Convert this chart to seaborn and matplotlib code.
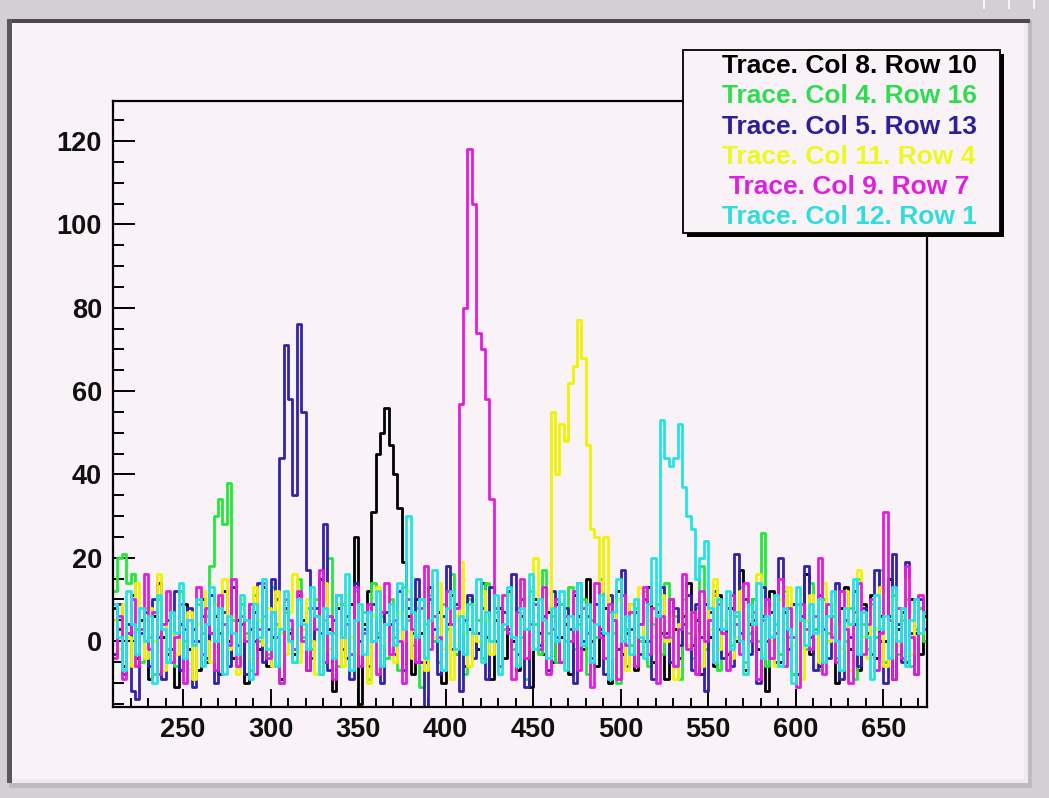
import numpy as np
import pandas as pd
import matplotlib
matplotlib.use("Agg")
import matplotlib.pyplot as plt
from matplotlib.patches import Rectangle
from matplotlib.ticker import MultipleLocator
import seaborn as sns

# Histogram binning of the traces
X_START = 210.0
BIN_WIDTH = 2.5

trace_names = [
    "Trace. Col 8. Row 10",
    "Trace. Col 4. Row 16",
    "Trace. Col 5. Row 13",
    "Trace. Col 11. Row 4",
    "Trace. Col 9. Row 7",
    "Trace. Col 12. Row 1",
]
line_colors = ["#000000", "#22e83a", "#3322aa", "#f2f200", "#e41ce0", "#22e4e6"]
label_colors = ["#000000", "#30dc50", "#2b1f9a", "#eef820", "#dc22dc", "#30dcdc"]

x_ticks = [250, 300, 350, 400, 450, 500, 550, 600, 650]
y_ticks = [0, 20, 40, 60, 80, 100, 120]

# Per-bin contents of each trace (186 bins of 2.5 from 210 to 675)
col8_row10 = [
    8, 3, -6, 2, 11, -4, 5, 0, -9, 6, 14, 1, -3, 7, -11, 4, 9, -2, 3, -7,
    10, -5, 2, 6, -8, 12, 0, -4, 5, 9, -10, 3, 7, -2, 13, -6, 1, 4, -9, 8,
    2, -3, 11, 5, -7, 0, 6, 15, -5, 3, -12, 8, 1, -4, 9, 25, -15, 4, 12, 31,
    45, 50, 56, 47, 40, 32, 19,
    6, -8, 10, 2, -5, 13, 0, 7, -10, 4, 11, -3, 6,
    -6, 3, 9, -2, 14, 1, -9, 5, 8, -4, 12, 0, -7, 6, 3, -11, 10, 2, -3, 7,
    -5, 9, 1, 4, -8, 11, 6, -2, 15, 0, -6, 3, 8, -10, 5, 12, -3, 2, 9, -7,
    4, 0, 13, -5, 7, 2, -9, 10, 3, -4, 6, 14, -1, 5, -8, 9, 1, -6, 11, 3,
    -3, 8, 0, 17, -7, 4, 10, -2, 6, -12, 12, 2, -5, 7, 1, 9, -8, 5, 16, -3,
    3, -6, 10, 0, 6, -10, 8, 13, -2, 4, -7, 9, 2, 11, -4, 6, 0, 15, -9, 3,
    7, -5, 10, 2, -3, 6,
]
col4_row16 = [
    12, 20, 21, 14, 16, 3, -5, 8, 1, -8, 10, 4, -2, 7, -6, 12, 0, 5, -9, 9, 2, 6,
    18, 30, 34, 28, 38, 5,
    -4, 9, 2, -7, 11, 0, 6, -3, 13, 4, -10, 7,
    3, -5, 15, 1, 8, -2, 10, -8, 5, 20, 2, -6, 9, 4, -3, 12, 0, 7, -9, 14,
    2, 6, -4, 10, 1, -7, 13, 5, -1, 8, -11, 4, 11, 0, -5, 9, 3, 16, -3, 6,
    -8, 10, 2, 5, -4, 14, 0, 7, -6, 3, 11, -2, 8, 1, -9, 12, 4, -3, 17, 2,
    6, -5, 9, 0, 13, -2, 4, 10, -8, 5, 1, 15, -4, 7, 2, -10, 11, 3, -1, 8,
    0, 12, -6, 4, 9, -3, 14, 1, 6, -9, 10, 2, -4, 8, 18, -2, 5, 11, -7, 3,
    9, -1, 6, 13, -5, 2, 10, 0, 26, -6, 7, 4, -3, 12, 1, -8, 9, 5, -2, 14,
    3, -7, 10, 2, 6, -4, 12, 0, 8, -9, 15, 4, -2, 9, 1, 17, -5, 6, 11, -3,
    5, 10, -6, 3, 8, 0,
]
col5_row13 = [
    -3, 9, -8, 4, -12, -14, 2, 7, -6, 10, 1, -9, 5, -2, 12, -7, 3, 8, -11, 0,
    6, -4, 11, -10, 2, 7, -6, 13, -1, 4, -8, 9, 0, 14, -5, 3, 15, 10,
    44, 71, 58, 35, 76, 55, 17,
    -4, 8, 2, 28, -7, 5, 11, -2, 6, -9, 14, 0, 3, -6, 9,
    1, -10, 7, 4, -3, 12, -7, 8, 2, 15, -5, -18, 10, 3, -8, 6, 18, -2, 9, -12,
    5, 11, -4, 2, 8, -9, 13, 0, -6, 7, 3, 16, -3, 10, -11, 4, 9, -1, 6, -7,
    12, 1, -5, 8, 3, -10, 14, 0, 6, -4, 9, 2, -8, 11, 5, -2, 17, -6, 3, 7,
    -3, 10, 0, -9, 6, 13, 2, -5, 8, -1, 4, 11, -7, 9, 1, -12, 7, 12, 3, -4,
    8, -6, 21, 2, 10, -3, 5, -10, 13, 0, 7, -5, 20, 4, -2, 9, -8, 6, 18, 1,
    -7, 11, 3, -4, 9, 14, -9, 5, 1, 12, -6, 8, 2, -3, 17, 0, -10, 6, 21, 4,
    -5, 19, 2, -8, 10, 3,
]
col11_row4 = [
    5, -2, 9, 1, -6, 14, 3, -4, 8, 0, 16, -7, 6, 2, -3, 11, -1, 7, -9, 4,
    12, 0, -5, 9, 3, 15, -2, 6, -8, 10, 1, -4, 13, 5, -1, 8, -6, 12, 2, -3,
    7, 16, -5, 3, 10, 0, -8, 6, 14, -2, 4, 9, -6, 11, 1, -3, 8, 2, -10, 6,
    13, -1, 4, 9, -5, 7, 0, 12, -4, 3, 10, -7, 5, 1, 14, -2, 8, -9, 6, 19,
    2, -6, 9, 0, 12, 5, -3, 8, -8, 4, 11, 1, -5, 15, 3, -2, 20, 7, 0, 8,
    55, 40, 52, 48, 62, 66, 77, 68, 47, 27, 25, 12, 25,
    6, -4, 10, 2, -7, 9, 1,
    13, -3, 5, 8, -5, 11, 0, 6, -9, 4, 12, -1, 7, 2, -6, 10, 3, 15, -2, 5,
    9, -4, 1, 12, -8, 6, 3, 16, -3, 8, 0, -6, 10, 4, 13, -1, 7, -9, 5, 11,
    2, -5, 14, 0, 9, 4, -2, 12, -7, 6, 17, 1, -4, 8, 3, 13, -6, 5, 10, -1,
    6, 15, -3, 9, 2, 7,
]
col9_row7 = [
    -4, 6, -9, 2, 10, -6, 3, 16, -2, 7, -8, 4, 12, -5, 1, 9, -10, 5, 0, 13,
    -3, 8, 2, -7, 11, 4, -1, 15, -6, 6, 0, 9, -8, 3, 14, -4, 7, 1, -10, 10,
    5, -2, 12, 0, -7, 8, 3, 17, -5, 6, -9, 11, 1, 4, -3, 13, -6, 2, 9, 0,
    -8, 7, 14, -3, 5, 0, -10, 10, 3, -5, 8, 18, -2, 6, 1, -7, 12, 4, 8,
    57, 80, 118, 105, 74, 70, 58, 34, 8,
    -6, 11, 2, -9, 7, 15, -4, 4, 9, -2, 13, -8,
    3, 10, -5, 6, 0, 12, -7, 8, 2, -11, 14, 1, -4, 9, 5, -9, 11, -1, 7, -6,
    4, 13, -3, 8, -10, 6, 1, 10, -6, 3, 16, -2, 7, -8, 12, 0, 5, -5, 9, 2,
    -7, 11, 4, -3, 14, 0, 7, -9, 5, 10, -4, 2, 15, -6, 8, 1, -11, 9, 3, -2,
    6, 20, -8, 9, 1, -5, 12, 3, -10, 7, 14, -3, 4, 10, -7, 2, 31, 5, -9, 8,
    -4, 18, 1, -8, 11, 3,
]
col12_row1 = [
    9, 1, -7, 12, 4, -3, 8, 0, 6, -10, 11, 3, -5, 7, 2, 14, -4, 5, -1, 10,
    -6, 4, 13, 0, 8, -8, 6, 2, -3, 11, 5, -9, 9, 1, 15, -2, 7, -6, 3, 12,
    0, -5, 10, 4, -2, 13, 6, -8, 8, 2, -4, 11, 1, 16, -7, 5, 9, -3, 7, 0,
    12, -6, 4, 9, -1, 14, 3, 30, 7, 1, 10, -4, 5, 17, 0, -7, 8, 12, -2, 6,
    -3, 9, 2, 15, -5, 7, 0, 11, -8, 4, 13, 1, -6, 8, 3, 16, -2, 10, 5, -4,
    8, 0, 12, -7, 6, 3, 14, -1, 9, -5, 4, 11, 2, -9, 7, 15, 0, 6, -3, 10,
    1, -4, 9,
    20, 6, 53, 44, 42, 44, 52, 37, 30, 27, 15, 20, 24, 8,
    -5, 10, 3,
    12, -2, 7, 0, -8, 9, 4, 14, -4, 6, 1, 11, -6, 8, 3, -10, 13, 5, -1, 9,
    2, 10, -5, 6, 12, 0, -7, 8, 4, 15, -3, 7, 1, -9, 11, 3, 6, -4, 13, 0,
    8, -6, 5, 10, 2, 7,
]
series = [col8_row10, col4_row16, col5_row13, col11_row4, col9_row7, col12_row1]

# Long-form table: bin edges with step values for each trace
frames = []
for name, vals in zip(trace_names, series):
    vals = np.asarray(vals, dtype=float)
    edges = X_START + BIN_WIDTH * np.arange(len(vals) + 1)
    frames.append(pd.DataFrame({"x": edges, "y": np.append(vals, vals[-1]), "trace": name}))
df = pd.concat(frames, ignore_index=True)

sns.set_theme(style="ticks")
plt.rcParams["font.family"] = ["Liberation Sans", "DejaVu Sans"]

W, H = 1049, 798
CANVAS = "#f9f3f7"
WINDOW = "#d3cfd4"

fig = plt.figure(figsize=(W / 100, H / 100), dpi=100, facecolor=WINDOW)


def add_rect(x0, y0, x1, y1, **kw):
    fig.add_artist(Rectangle((x0 / W, 1 - y1 / H), (x1 - x0) / W, (y1 - y0) / H,
                             transform=fig.transFigure, **kw))


# Canvas with bevelled border
add_rect(9, 20, 1031, 783, facecolor=CANVAS, edgecolor="none", zorder=-10)
add_rect(1024, 20, 1028, 783, facecolor="#eeeaee", edgecolor="none", zorder=-9)
add_rect(1028, 20, 1032, 788, facecolor="#bdb9bd", edgecolor="none", zorder=-9)
add_rect(9, 779, 1028, 783, facecolor="#eeeaee", edgecolor="none", zorder=-9)
add_rect(9, 783, 1032, 788, facecolor="#bdb9bd", edgecolor="none", zorder=-9)
add_rect(8, 19, 1030, 23, facecolor="#4c4a4c", edgecolor="none", zorder=-8)
add_rect(7, 19, 12, 783, facecolor="#5a585a", edgecolor="none", zorder=-8)
for bx in (983, 1008, 1033):
    add_rect(bx, 0, bx + 2, 9, facecolor="#f4f4f4", edgecolor="none", zorder=-8)

ax = fig.add_axes([113 / W, 1 - 707 / H, (927 - 113) / W, (707 - 101) / H])
ax.set_facecolor(CANVAS)

sns.lineplot(
    data=df, x="x", y="y", hue="trace", hue_order=trace_names,
    palette=dict(zip(trace_names, line_colors)),
    estimator=None, sort=False, drawstyle="steps-post",
    linewidth=2.0, legend=False, ax=ax,
)

ax.set_xlim(210, 675)
ax.set_ylim(-15.8, 129.6)
ax.set_xlabel("")
ax.set_ylabel("")
ax.set_xticks(x_ticks)
ax.set_xticklabels([str(v) for v in x_ticks])
ax.set_yticks(y_ticks)
ax.set_yticklabels([str(v) for v in y_ticks])
ax.xaxis.set_minor_locator(MultipleLocator(10))
ax.yaxis.set_minor_locator(MultipleLocator(5))
ax.tick_params(axis="both", which="both", direction="in", top=False, right=False,
               color="black", width=1.4)
ax.tick_params(axis="x", which="major", length=13, pad=7, labelsize=19.5)
ax.tick_params(axis="x", which="minor", length=6.5)
ax.tick_params(axis="y", which="major", length=16, pad=8, labelsize=19.5)
ax.tick_params(axis="y", which="minor", length=8)
for lab in ax.get_xticklabels() + ax.get_yticklabels():
    lab.set_fontweight("bold")
    lab.set_color("#111111")
for sp in ax.spines.values():
    sp.set_visible(True)
    sp.set_color("black")
    sp.set_linewidth(1.6)

# Legend box with drop shadow and coloured entries
add_rect(687, 54, 1004, 237, facecolor="black", edgecolor="none", zorder=5)
add_rect(683, 50, 1000, 233, facecolor=CANVAS, edgecolor="black", linewidth=1.3, zorder=6)
baselines = [73, 103.3, 133.6, 163.9, 194.2, 224.5]
for name, col, yb in zip(trace_names, label_colors, baselines):
    fig.text(849 / W, 1 - yb / H, name, color=col, fontsize=19, fontweight="bold",
             ha="center", va="baseline", zorder=7)

fig.savefig("out.png", dpi=100, facecolor=WINDOW)
